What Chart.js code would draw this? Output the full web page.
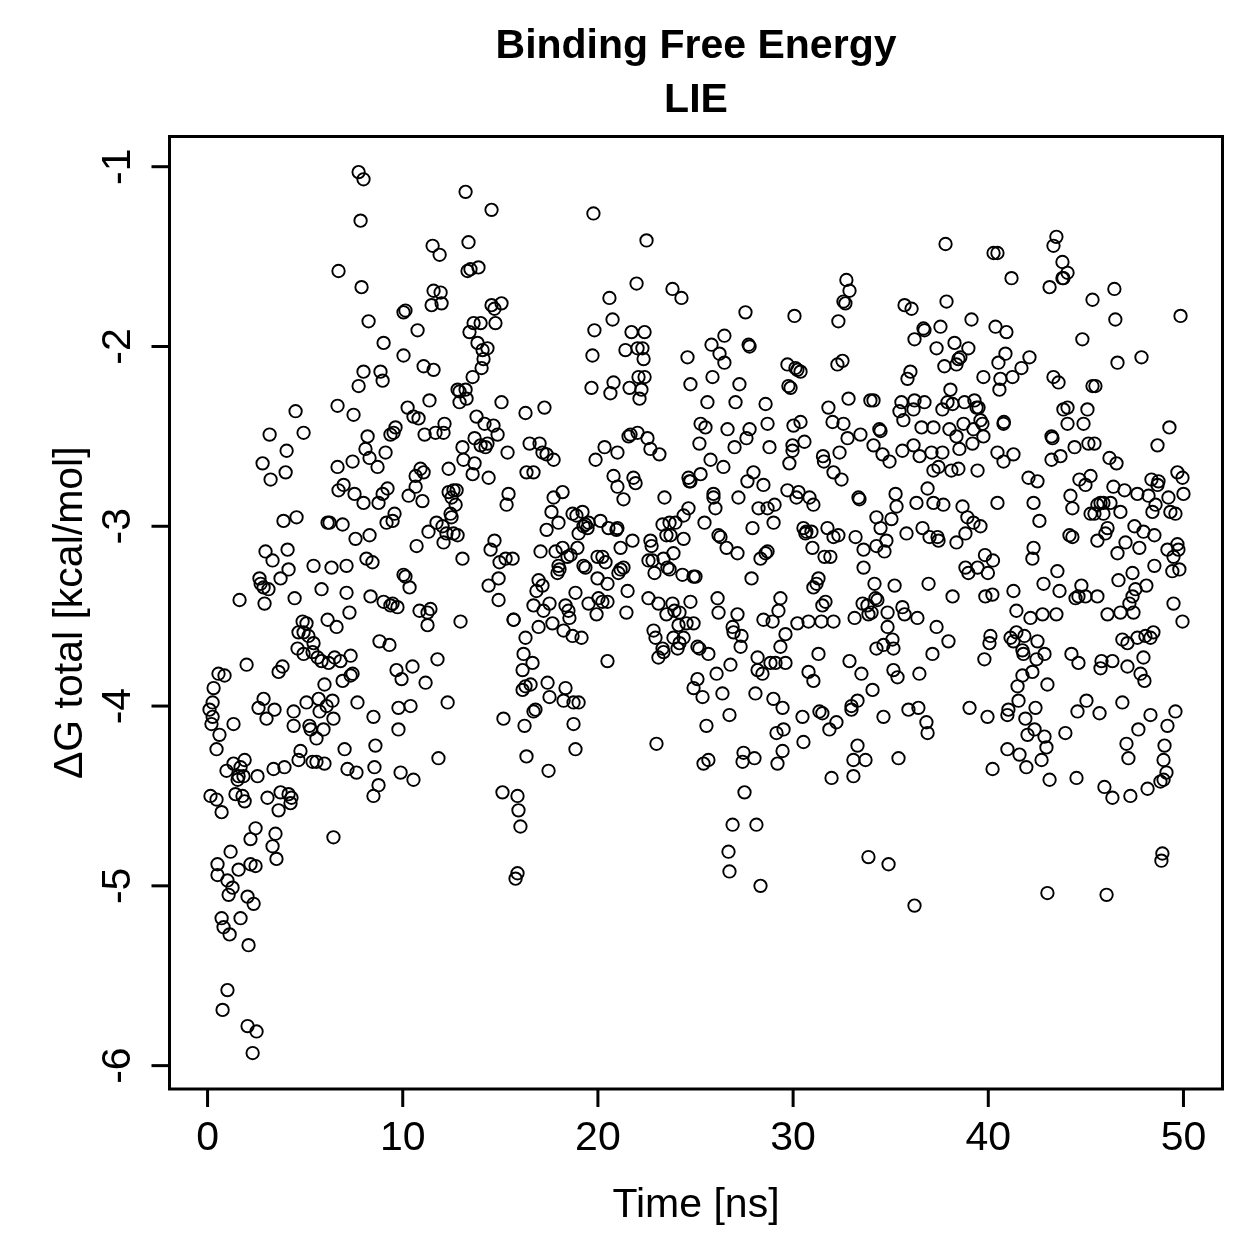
<!DOCTYPE html>
<html><head><meta charset="utf-8">
<script src="https://cdn.jsdelivr.net/npm/chart.js@4/dist/chart.umd.min.js"></script>
<style>html,body{margin:0;padding:0;background:#fff}#wrap{width:1259px;height:1259px}</style>
</head><body><div id="wrap"><canvas id="c" width="1259" height="1259"></canvas></div>
<script>
const titleLines = ["Binding Free Energy", "LIE"];
const xLabel = "Time [ns]";
const yLabel = "\u0394G total [kcal/mol]";
const xTicks = [0, 10, 20, 30, 40, 50];
const yTicks = [-1, -2, -3, -4, -5, -6];
const xLimits = [-1.95, 52.0];
const yLimits = [-6.13, -0.832];

// [time (ns), dG total (kcal/mol)]
const phaseEarly = [
[0.15,-4.50],[0.46,-4.52],[0.72,-4.59],[1.43,-4.49],[1.79,-4.50],[1.90,-4.53],[3.07,-4.51],[3.64,-4.58],[3.74,-4.48],[4.15,-4.49],
[4.30,-4.51],[4.25,-4.54],[8.50,-4.50],[15.11,-4.48],[15.88,-4.50],[15.93,-4.58],[16.03,-4.67],[15.88,-4.93],[15.78,-4.96],[2.46,-4.68],
[2.20,-4.74],[3.48,-4.71],[3.33,-4.78],[3.53,-4.85],[6.45,-4.73],[1.18,-4.81],[0.51,-4.88],[0.51,-4.94],[1.02,-4.97],[1.28,-5.01],
[1.08,-5.05],[1.59,-4.91],[2.20,-4.88],[2.46,-4.89],[2.05,-5.06],[2.36,-5.10],[0.72,-5.18],[0.82,-5.23],[1.13,-5.27],[1.69,-5.18],
[2.10,-5.33],[1.02,-5.58],[0.77,-5.69],[2.05,-5.78],[2.51,-5.81],[2.31,-5.93],
[7.74,-1.03],[7.99,-1.07],[13.22,-1.14],[14.55,-1.24],[7.84,-1.30],[11.53,-1.44],[11.89,-1.49],[13.37,-1.42],[6.71,-1.58],[7.89,-1.67],
[13.32,-1.58],[13.47,-1.57],[13.88,-1.56],[11.58,-1.69],[11.94,-1.70],[11.99,-1.76],[11.48,-1.77],[14.55,-1.77],[14.70,-1.79],[15.06,-1.76],
[8.25,-1.86],[10.14,-1.80],[10.04,-1.81],[10.76,-1.91],[13.63,-1.87],[13.99,-1.87],[13.42,-1.92],[14.75,-1.87],[9.02,-1.98],[13.83,-1.98],
[14.09,-2.02],[14.34,-2.01],[14.14,-2.07],[14.04,-2.12],[10.04,-2.05],[11.07,-2.11],[11.58,-2.13],[7.99,-2.14],[8.86,-2.14],[8.97,-2.19],
[7.74,-2.22],[13.58,-2.17],[12.81,-2.24],[12.91,-2.25],[13.22,-2.24],[13.27,-2.29],[12.91,-2.31],[11.37,-2.30],[10.25,-2.34],[10.55,-2.39],
[10.81,-2.40],[15.06,-2.31],[16.29,-2.37],[6.66,-2.33],[7.48,-2.38],[4.51,-2.36],[3.18,-2.49],[4.92,-2.48],[4.05,-2.58],[2.82,-2.65],
[4.00,-2.70],[3.23,-2.74],[8.20,-2.50],[8.09,-2.57],[8.30,-2.62],[8.71,-2.67],[7.43,-2.64],[6.66,-2.67],[9.12,-2.59],[9.37,-2.49],
[9.63,-2.45],[9.53,-2.48],[11.12,-2.49],[11.68,-2.48],[12.14,-2.43],[12.09,-2.48],[13.78,-2.39],[14.19,-2.43],[14.65,-2.44],[14.86,-2.49],
[13.06,-2.56],[13.68,-2.51],[13.99,-2.55],[14.34,-2.54],[14.24,-2.56],[13.11,-2.63],[13.68,-2.65],[15.37,-2.59],[12.35,-2.68],[10.91,-2.68],
[11.07,-2.70],[10.66,-2.72],[13.58,-2.71],[14.40,-2.73],[16.34,-2.70],[16.50,-2.54],
[6.71,-2.80],[6.97,-2.77],[7.53,-2.82],[7.99,-2.87],[8.76,-2.87],[8.97,-2.82],[9.22,-2.79],[10.30,-2.83],[10.66,-2.78],[11.01,-2.86],
[12.35,-2.81],[12.60,-2.80],[12.76,-2.80],[12.50,-2.84],[12.71,-2.88],[12.45,-2.93],[12.50,-2.95],[15.42,-2.82],[15.32,-2.88],[3.89,-2.97],
[4.56,-2.95],[6.15,-2.98],[6.25,-2.98],[6.92,-2.99],[7.58,-3.07],[8.30,-3.05],[9.17,-2.98],[9.48,-2.97],[9.58,-2.93],[10.71,-3.11],
[11.32,-3.03],[11.73,-2.98],[12.04,-3.00],[12.24,-3.04],[12.09,-3.09],[12.60,-3.04],[12.81,-3.05],[13.06,-3.18],[14.70,-3.08],[14.50,-3.13],
[14.96,-3.20],[15.27,-3.18],[15.63,-3.18],[14.40,-3.33],[14.91,-3.29],[14.91,-3.41],[15.68,-3.52],[16.29,-3.62],[2.97,-3.14],[3.33,-3.19],
[4.10,-3.13],[4.15,-3.24],[3.74,-3.29],[2.66,-3.29],[2.72,-3.32],[2.87,-3.34],[3.12,-3.35],[2.92,-3.43],[1.64,-3.41],[4.46,-3.40],
[5.43,-3.22],[6.35,-3.23],[7.12,-3.22],[8.14,-3.18],[8.45,-3.20],[5.84,-3.35],[7.12,-3.37],[8.35,-3.39],[7.27,-3.48],[9.02,-3.42],
[9.37,-3.44],[9.73,-3.45],[9.48,-3.43],[10.04,-3.27],[10.14,-3.28],[10.35,-3.34],[10.86,-3.47],[11.27,-3.48],[11.42,-3.46],[11.27,-3.55],
[12.96,-3.53],[6.15,-3.52],[6.61,-3.56],[4.87,-3.53],[5.07,-3.54],[4.66,-3.59],[4.92,-3.59],[5.17,-3.61],[5.43,-3.65],[4.61,-3.68],
[4.92,-3.71],[5.38,-3.70],[5.64,-3.73],[5.84,-3.75],[6.20,-3.76],[6.51,-3.73],[6.81,-3.75],[7.33,-3.72],[8.81,-3.64],[9.32,-3.66],
[2.00,-3.77],[0.56,-3.82],[0.87,-3.83],[0.31,-3.90],[3.64,-3.81],[3.84,-3.78],[7.33,-3.83],[7.43,-3.82],[6.92,-3.86],[5.99,-3.88],
[9.68,-3.80],[10.50,-3.78],[9.94,-3.85],[11.17,-3.87],[11.78,-3.74],[0.26,-3.98],[0.10,-4.02],[0.26,-4.06],[0.20,-4.10],[0.61,-4.16],
[0.46,-4.24],[1.33,-4.10],[2.87,-3.96],[2.61,-4.01],[3.43,-4.02],[3.02,-4.07],[4.41,-4.03],[4.41,-4.11],[5.07,-3.98],[5.69,-3.96],
[6.40,-3.97],[6.10,-4.00],[5.74,-4.03],[6.45,-4.07],[5.22,-4.11],[5.28,-4.13],[5.94,-4.13],[5.58,-4.18],[7.68,-3.98],[8.50,-4.06],
[9.78,-4.01],[10.40,-4.00],[9.78,-4.13],[12.30,-3.98],[15.16,-4.07],[16.24,-4.11],[16.34,-4.28],[4.76,-4.25],[4.66,-4.30],[5.38,-4.31],
[5.58,-4.31],[5.99,-4.32],[7.02,-4.24],[8.60,-4.22],[7.17,-4.35],[7.63,-4.37],[8.55,-4.34],[8.76,-4.44],[9.89,-4.37],[10.55,-4.41],
[11.83,-4.29],[0.97,-4.36],[1.33,-4.32],[1.90,-4.30],[1.69,-4.34],[1.59,-4.39],[1.84,-4.39],[1.54,-4.41],[2.56,-4.39],[3.38,-4.35],
[3.94,-4.34],[15.68,-3.52]
];

const phaseMiddle = [
[19.77,-1.26],[22.49,-1.41],[21.98,-1.65],[20.59,-1.73],[23.82,-1.68],[24.28,-1.73],[27.56,-1.81],[30.07,-1.83],[32.73,-1.63],[32.89,-1.69],
[32.58,-1.75],[32.68,-1.76],[32.32,-1.86],[20.75,-1.85],[19.82,-1.91],[21.72,-1.92],[22.39,-1.92],[19.72,-2.05],[21.41,-2.02],[22.03,-2.01],
[22.28,-2.01],[22.34,-2.07],[24.59,-2.06],[25.82,-1.99],[26.48,-1.94],[26.23,-2.04],[26.48,-2.09],[27.72,-1.99],[27.77,-2.00],[29.71,-2.10],
[30.12,-2.12],[30.38,-2.14],[30.22,-2.13],[32.27,-2.10],[32.53,-2.08],[19.67,-2.23],[20.80,-2.20],[20.64,-2.26],[21.62,-2.23],[22.08,-2.17],
[22.39,-2.17],[22.23,-2.24],[22.13,-2.29],[24.74,-2.21],[25.87,-2.17],[27.25,-2.21],[29.76,-2.22],[29.87,-2.23],[25.61,-2.31],[27.05,-2.31],
[28.59,-2.32],[31.81,-2.34],[32.84,-2.29],[33.96,-2.30],[17.26,-2.34],[17.01,-2.54],[17.16,-2.59],[17.37,-2.60],[17.73,-2.63],[16.70,-2.70],
[19.88,-2.63],[20.34,-2.56],[21.00,-2.59],[21.57,-2.50],[21.67,-2.49],[22.03,-2.48],[22.54,-2.51],[22.69,-2.57],[23.15,-2.60],[20.80,-2.72],
[21.82,-2.73],[25.26,-2.43],[25.51,-2.45],[25.20,-2.54],[25.77,-2.63],[26.43,-2.67],[25.26,-2.71],[24.64,-2.73],[26.64,-2.46],[27.77,-2.46],
[27.61,-2.51],[27.00,-2.56],[27.97,-2.70],[28.69,-2.43],[28.79,-2.56],[30.02,-2.44],[30.38,-2.42],[29.97,-2.55],[29.97,-2.58],[30.58,-2.53],
[29.81,-2.65],[32.02,-2.42],[32.58,-2.43],[32.79,-2.51],[33.45,-2.49],[31.53,-2.61],[31.58,-2.64],[32.38,-2.59],[32.07,-2.70],[32.48,-2.74],
[21.00,-2.78],[21.31,-2.85],[21.93,-2.76],[17.73,-2.84],[18.19,-2.81],[17.62,-2.92],[17.98,-2.98],[17.37,-3.02],[18.70,-2.93],[19.21,-2.92],
[18.90,-2.94],[19.36,-2.99],[19.47,-3.01],[19.26,-3.00],[19.52,-2.98],[19.01,-3.04],[20.13,-2.97],[20.54,-3.01],[20.95,-3.02],[21.00,-3.01],
[21.77,-3.08],[21.16,-3.12],[18.95,-3.12],[18.19,-3.12],[17.06,-3.14],[17.83,-3.14],[18.44,-3.17],[18.60,-3.16],[17.98,-3.22],[17.93,-3.26],
[18.03,-3.24],[19.26,-3.22],[19.36,-3.23],[19.98,-3.17],[20.23,-3.17],[20.39,-3.20],[21.16,-3.24],[21.31,-3.23],[21.05,-3.26],[19.98,-3.29],
[20.49,-3.32],[16.96,-3.30],[17.16,-3.33],[16.85,-3.36],[18.85,-3.37],[16.70,-3.44],[17.21,-3.47],[17.52,-3.43],[18.34,-3.44],[18.49,-3.47],
[18.54,-3.51],[19.52,-3.43],[20.03,-3.40],[20.23,-3.42],[20.49,-3.42],[19.93,-3.49],[21.52,-3.36],[21.46,-3.48],[17.67,-3.54],[16.96,-3.56],
[18.24,-3.58],[18.70,-3.61],[19.16,-3.62],[16.19,-3.71],[16.65,-3.76],[16.14,-3.80],[16.29,-3.89],[16.55,-3.88],[16.14,-3.91],[17.42,-3.87],
[17.52,-3.95],[18.34,-3.90],[18.24,-3.97],[18.75,-3.98],[19.01,-3.98],[16.80,-4.02],[16.70,-4.03],[18.75,-4.10],[18.85,-4.24],[17.47,-4.36],
[20.49,-3.75],[23.00,-4.21],[23.41,-2.84],[24.74,-2.75],[25.92,-2.82],[25.92,-2.84],[26.02,-2.90],[27.20,-2.84],[27.66,-2.75],[28.48,-2.77],
[29.71,-2.80],[30.28,-2.81],[30.17,-2.84],[30.84,-2.84],[31.04,-2.88],[33.35,-2.84],[33.40,-2.85],[28.23,-2.90],[28.69,-2.90],[29.05,-2.88],
[29.00,-2.98],[27.92,-3.01],[25.46,-2.98],[24.64,-2.90],[24.39,-2.94],[23.97,-2.98],[23.67,-2.98],[23.31,-2.99],[23.72,-3.05],[23.51,-3.05],
[24.39,-3.07],[22.69,-3.08],[22.75,-3.11],[23.87,-3.15],[23.36,-3.18],[22.59,-3.19],[22.80,-3.19],[23.56,-3.23],[23.67,-3.24],[22.90,-3.26],
[24.33,-3.27],[24.90,-3.28],[25.00,-3.28],[26.18,-3.05],[26.28,-3.06],[26.59,-3.12],[27.15,-3.15],[28.69,-3.14],[28.59,-3.15],[28.33,-3.18],
[27.87,-3.29],[30.53,-3.01],[30.68,-3.03],[30.94,-3.03],[30.63,-3.04],[30.99,-3.12],[31.76,-3.01],[32.07,-3.06],[32.32,-3.05],[33.20,-3.06],
[31.61,-3.17],[31.91,-3.17],[33.61,-3.13],[33.61,-3.23],[31.30,-3.29],[31.20,-3.32],[31.04,-3.34],[22.59,-3.40],[23.10,-3.43],[23.51,-3.49],
[23.82,-3.43],[23.92,-3.47],[24.18,-3.48],[24.74,-3.42],[24.13,-3.55],[24.54,-3.54],[24.90,-3.54],[22.85,-3.58],[22.95,-3.62],[23.87,-3.62],
[24.18,-3.65],[24.39,-3.62],[24.08,-3.68],[23.31,-3.68],[23.10,-3.73],[23.36,-3.70],[25.10,-3.67],[25.20,-3.68],[25.66,-3.71],[26.13,-3.40],
[26.18,-3.48],[27.15,-3.49],[26.90,-3.56],[26.95,-3.59],[27.36,-3.61],[27.31,-3.67],[28.48,-3.52],[28.95,-3.53],[29.25,-3.47],[29.35,-3.40],
[29.61,-3.60],[29.35,-3.67],[30.22,-3.54],[30.79,-3.53],[31.45,-3.53],[32.07,-3.53],[33.15,-3.51],[31.50,-3.44],[31.66,-3.42],[33.56,-3.43],
[33.81,-3.44],[33.86,-3.49],[31.30,-3.71],[32.89,-3.75],[33.50,-3.82],[28.18,-3.73],[28.84,-3.76],[29.10,-3.76],[29.61,-3.76],[28.18,-3.80],
[28.43,-3.82],[26.79,-3.77],[26.08,-3.82],[25.10,-3.85],[24.90,-3.90],[25.36,-3.95],[26.38,-3.93],[26.74,-4.05],[25.56,-4.11],[28.07,-3.93],
[28.99,-3.96],[29.46,-4.01],[30.48,-4.06],[30.79,-3.81],[31.04,-3.86],[31.35,-4.03],[31.50,-4.04],[32.22,-4.09],[31.86,-4.13],[32.99,-4.00],
[32.99,-4.02],[33.30,-3.97],[29.15,-4.15],[29.51,-4.13],[30.53,-4.20],[29.46,-4.25],[29.20,-4.32],[27.46,-4.26],[27.41,-4.31],[28.02,-4.29],
[27.51,-4.48],[25.41,-4.32],[25.66,-4.30],[31.97,-4.40],[33.30,-4.22],[33.09,-4.30],[33.71,-4.30],[33.09,-4.39],
[26.90,-4.66],[28.12,-4.66],[26.69,-4.81],[26.74,-4.92],[28.33,-5.00],[33.86,-4.84],[24.69,-2.75]
];

const phaseLate = [
[37.81,-1.43],[40.27,-1.48],[40.47,-1.48],[41.19,-1.62],[43.49,-1.39],[43.34,-1.44],[43.80,-1.53],[44.06,-1.59],[43.80,-1.62],[43.85,-1.62],
[43.14,-1.67],[45.34,-1.74],[46.46,-1.68],[46.51,-1.85],[49.85,-1.83],[37.86,-1.75],[35.71,-1.77],[36.07,-1.79],[37.55,-1.89],[39.14,-1.85],
[40.37,-1.89],[40.93,-1.92],[36.68,-1.90],[36.73,-1.91],[36.22,-1.96],[37.35,-2.01],[38.27,-1.98],[38.98,-2.01],[38.57,-2.06],[38.47,-2.07],
[38.37,-2.10],[37.75,-2.11],[40.88,-2.04],[40.52,-2.09],[42.11,-2.06],[41.70,-2.12],[41.24,-2.17],[40.62,-2.18],[40.57,-2.24],[39.75,-2.17],
[36.01,-2.14],[35.86,-2.18],[44.82,-1.96],[46.62,-2.09],[47.85,-2.06],[43.34,-2.17],[43.60,-2.20],[45.34,-2.22],[45.49,-2.22],[38.06,-2.24],
[37.91,-2.31],[38.17,-2.32],[37.65,-2.35],[38.78,-2.31],[39.29,-2.30],[39.40,-2.34],[39.50,-2.34],[35.55,-2.31],[35.45,-2.36],[36.22,-2.30],
[36.17,-2.35],[36.73,-2.31],[35.65,-2.41],[34.12,-2.30],[34.42,-2.46],[34.48,-2.47],[36.58,-2.45],[37.19,-2.45],[38.01,-2.46],[38.37,-2.50],
[38.73,-2.43],[39.24,-2.46],[39.60,-2.41],[39.70,-2.43],[39.75,-2.50],[39.19,-2.54],[38.52,-2.57],[37.65,-2.59],[37.09,-2.59],[36.48,-2.61],
[36.17,-2.55],[35.60,-2.58],[34.58,-2.60],[34.94,-2.64],[34.12,-2.55],[37.19,-2.69],[37.45,-2.67],[38.11,-2.69],[38.47,-2.68],[39.45,-2.69],
[40.47,-2.59],[40.78,-2.64],[41.29,-2.60],[40.78,-2.43],[40.80,-2.42],[43.24,-2.50],[43.29,-2.51],[43.24,-2.63],[43.70,-2.61],[44.42,-2.56],
[44.06,-2.34],[43.85,-2.35],[45.08,-2.35],[44.88,-2.43],[44.06,-2.43],[45.13,-2.54],[45.44,-2.54],[46.21,-2.62],[46.57,-2.65],[49.28,-2.45],
[48.67,-2.55],[42.06,-2.73],[42.52,-2.75],[44.67,-2.74],[45.24,-2.72],[48.36,-2.74],[48.72,-2.75],[49.69,-2.70],[49.95,-2.73],
[44.98,-2.77],[48.67,-2.77],[44.21,-2.83],[44.31,-2.90],[46.41,-2.78],[46.98,-2.80],[47.64,-2.82],[48.21,-2.83],[49.23,-2.84],[50.00,-2.82],
[48.57,-2.88],[48.41,-2.92],[49.33,-2.92],[49.59,-2.93],[45.75,-2.87],[45.90,-2.87],[46.26,-2.87],[45.59,-2.88],[45.24,-2.93],[45.44,-2.93],
[45.90,-2.93],[46.77,-2.92],[42.32,-2.87],[42.62,-2.97],[35.25,-2.82],[35.30,-2.89],[36.89,-2.79],[36.32,-2.87],[37.19,-2.87],[37.70,-2.88],
[38.68,-2.89],[40.47,-2.87],[38.93,-2.95],[39.24,-2.98],[39.60,-3.00],[38.83,-3.04],[38.37,-3.09],[34.27,-2.95],[34.48,-3.01],[35.04,-2.96],
[34.78,-3.08],[34.27,-3.11],[34.68,-3.14],[35.81,-3.04],[36.63,-3.01],[36.99,-3.06],[37.40,-3.06],[37.45,-3.08],[42.32,-3.12],[42.26,-3.18],
[44.16,-3.05],[44.31,-3.06],[45.59,-3.08],[46.11,-3.01],[46.00,-3.04],[47.49,-3.00],[47.95,-3.03],[48.51,-3.05],[47.03,-3.09],[47.74,-3.12],
[46.62,-3.15],[49.18,-3.13],[49.69,-3.10],[49.74,-3.13],[49.49,-3.17],[48.51,-3.22],[49.43,-3.25],[49.79,-3.24],[39.83,-3.16],[40.24,-3.19],
[39.45,-3.23],[38.83,-3.23],[38.98,-3.26],[39.98,-3.26],[43.54,-3.25],[47.39,-3.26],[46.67,-3.30],[48.10,-3.33],[42.83,-3.32],[41.29,-3.36],
[43.65,-3.36],[44.77,-3.33],[44.47,-3.40],[44.62,-3.39],[44.98,-3.39],[45.59,-3.39],[47.54,-3.35],[47.39,-3.39],[47.23,-3.43],[47.44,-3.48],
[46.77,-3.48],[46.11,-3.49],[49.49,-3.43],[49.95,-3.53],[41.44,-3.47],[42.16,-3.51],[42.78,-3.49],[43.49,-3.49],[34.17,-3.32],[35.20,-3.33],
[36.94,-3.32],[38.17,-3.39],[39.85,-3.39],[40.21,-3.38],[34.22,-3.40],[34.32,-3.41],[34.02,-3.48],[34.84,-3.48],[35.60,-3.45],[35.71,-3.49],
[36.37,-3.51],[37.35,-3.56],[34.84,-3.56],[35.09,-3.63],[34.63,-3.66],[34.27,-3.68],[35.14,-3.68],[37.96,-3.64],[37.14,-3.71],[40.11,-3.61],
[40.06,-3.65],[39.80,-3.74],[41.14,-3.62],[41.44,-3.59],[41.85,-3.61],[41.29,-3.64],[41.75,-3.69],[41.80,-3.71],[42.52,-3.64],[42.88,-3.71],
[42.47,-3.74],[42.26,-3.81],[41.75,-3.83],[41.50,-3.89],[43.03,-3.88],[44.26,-3.71],[44.62,-3.76],[45.80,-3.75],[45.75,-3.79],[46.36,-3.75],
[47.13,-3.78],[46.87,-3.63],[47.13,-3.65],[47.64,-3.62],[48.05,-3.61],[48.31,-3.62],[48.46,-3.59],[47.95,-3.73],[47.80,-3.82],[48.00,-3.86],
[35.14,-3.80],[35.35,-3.84],[36.47,-3.82],[34.07,-3.91],[34.63,-4.06],[35.91,-4.02],[36.42,-4.01],[36.83,-4.09],[36.89,-4.15],[39.04,-4.01],
[39.96,-4.06],[40.98,-4.05],[41.03,-4.02],[41.55,-3.97],[41.90,-4.07],[42.42,-4.01],[42.37,-4.13],[42.01,-4.16],[42.88,-4.17],[42.98,-4.23],
[40.98,-4.24],[41.60,-4.27],[41.95,-4.34],[42.73,-4.30],[40.22,-4.35],[43.95,-4.15],[44.57,-4.03],[45.03,-3.97],[45.70,-4.04],[46.87,-3.98],
[48.31,-4.05],[49.18,-4.11],[49.59,-4.03],[47.69,-4.13],[47.08,-4.21],[47.18,-4.29],[49.03,-4.22],[48.98,-4.30],[49.13,-4.37],[48.82,-4.42],
[48.98,-4.41],[48.16,-4.46],[47.28,-4.50],[46.36,-4.51],[45.95,-4.45],[43.14,-4.41],[44.52,-4.40],[35.40,-4.29],
[34.89,-4.88],[36.22,-5.11],[43.03,-5.04],[46.06,-5.05],[48.92,-4.82],[48.87,-4.86]
];

const allPoints = phaseEarly.concat(phaseMiddle, phaseLate).map(p => ({x: p[0], y: p[1]}));

const FONT = '"Liberation Sans", Arial, Helvetica, sans-serif';

const framePlugin = {
  id: 'rframe',
  afterDraw(chart) {
    const ctx = chart.ctx, a = chart.chartArea;
    const xs = chart.scales.x, ys = chart.scales.y;
    ctx.save();
    ctx.strokeStyle = '#000';
    ctx.fillStyle = '#000';
    ctx.lineWidth = 3;
    ctx.lineCap = 'square';
    ctx.strokeRect(a.left, a.top, a.right - a.left, a.bottom - a.top);
    ctx.lineCap = 'butt';
    ctx.font = '41px ' + FONT;
    ctx.textAlign = 'center';
    ctx.textBaseline = 'alphabetic';
    xTicks.forEach(v => {
      const px = xs.getPixelForValue(v);
      ctx.beginPath(); ctx.moveTo(px, a.bottom); ctx.lineTo(px, a.bottom + 18); ctx.stroke();
      ctx.fillText(String(v), px, a.bottom + 61);
    });
    yTicks.forEach(v => {
      const py = ys.getPixelForValue(v);
      ctx.beginPath(); ctx.moveTo(a.left, py); ctx.lineTo(a.left - 18, py); ctx.stroke();
      ctx.save();
      ctx.translate(a.left - 40, py);
      ctx.rotate(-Math.PI / 2);
      ctx.fillText(String(v), 0, 0);
      ctx.restore();
    });
    const cx = (a.left + a.right) / 2, cy = (a.top + a.bottom) / 2;
    ctx.fillText(xLabel, cx, a.bottom + 128);
    ctx.save();
    ctx.translate(82, cy);
    ctx.rotate(-Math.PI / 2);
    ctx.fillText(yLabel, 0, 0);
    ctx.restore();
    ctx.font = 'bold 41px ' + FONT;
    ctx.fillText(titleLines[0], cx, 58);
    ctx.fillText(titleLines[1], cx, 112);
    ctx.restore();
  }
};

new Chart(document.getElementById('c'), {
  type: 'scatter',
  data: {
    datasets: [{
      data: allPoints,
      pointStyle: 'circle',
      pointRadius: 6.2,
      pointHoverRadius: 6.2,
      borderWidth: 1.9,
      pointBorderWidth: 1.9,
      borderColor: '#000',
      pointBorderColor: '#000',
      backgroundColor: 'rgba(0,0,0,0)',
      pointBackgroundColor: 'rgba(0,0,0,0)'
    }]
  },
  options: {
    responsive: false,
    animation: false,
    devicePixelRatio: 1,
    layout: { padding: { left: 169.5, top: 136.5, right: 36.5, bottom: 170 } },
    plugins: { legend: { display: false }, tooltip: { enabled: false }, title: { display: false } },
    events: [],
    scales: {
      x: { type: 'linear', min: xLimits[0], max: xLimits[1], display: false },
      y: { type: 'linear', min: yLimits[0], max: yLimits[1], display: false }
    }
  },
  plugins: [framePlugin]
});
</script>
</body></html>
